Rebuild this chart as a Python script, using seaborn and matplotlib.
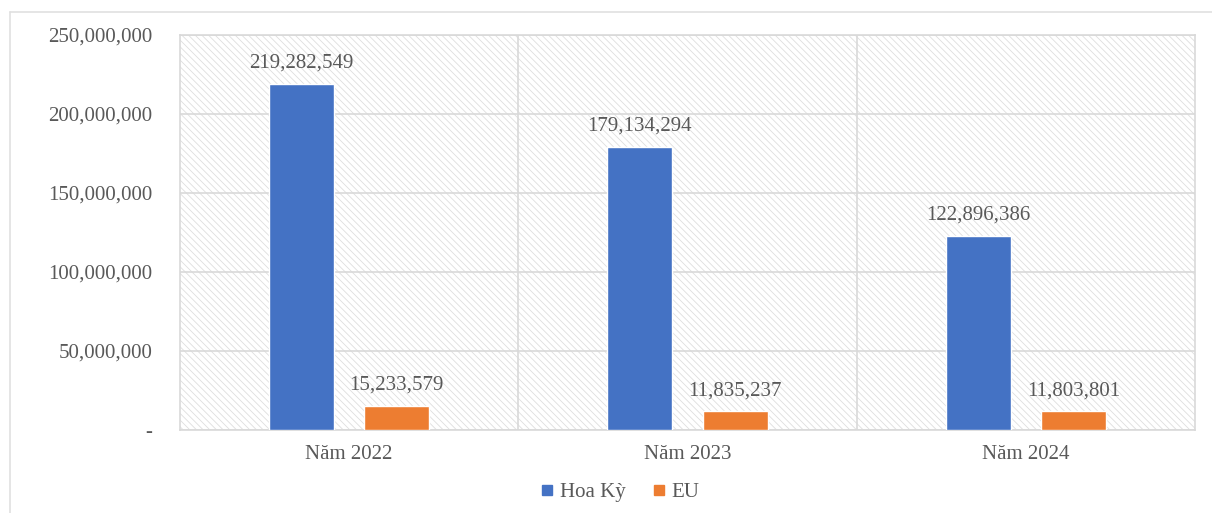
import matplotlib
matplotlib.use("Agg")
import matplotlib.pyplot as plt
import matplotlib.patches as mpatches
from matplotlib.lines import Line2D
from matplotlib.ticker import FuncFormatter
import seaborn as sns
import pandas as pd

# Export value by market and year
years = ["Năm 2022", "Năm 2023", "Năm 2024"]
markets = ["Hoa Kỳ", "EU"]
hoa_ky = [219282549, 179134294, 122896386]
eu = [15233579, 11835237, 11803801]
y_ticks = [0, 50000000, 100000000, 150000000, 200000000, 250000000]

df = pd.DataFrame({
    "year": years * 2,
    "market": [markets[0]] * 3 + [markets[1]] * 3,
    "value": hoa_ky + eu,
})

sns.set_theme(style="white")
plt.rcParams["font.family"] = ["Liberation Serif", "DejaVu Serif"]
plt.rcParams["hatch.linewidth"] = 0.6
plt.rcParams["hatch.color"] = "#dedede"

TXT = "#595959"
GRID = "#d9d9d9"
FS = 15
colors = {"Hoa Kỳ": "#4472C4", "EU": "#ED7D31"}

fig = plt.figure(figsize=(12.12, 5.13), dpi=100)
ax = fig.add_axes([0.1485, 0.1618, 0.8375, 0.77])

# hatched plot-area background
bg = mpatches.Rectangle((0, 0), 1, 1, transform=ax.transAxes, facecolor="white",
                        edgecolor="#dedede", hatch="\\" * 5, linewidth=0, zorder=0)
ax.add_patch(bg)
ax.set_facecolor("none")

sns.barplot(data=df, x="year", y="value", hue="market", order=years,
            hue_order=markets, palette=colors, width=0.562, gap=0.316,
            saturation=1, ax=ax, legend=False, zorder=3)

ax.set_ylim(0, 250000000)
ax.set_xlim(-0.5, 2.5)
ax.set_yticks(y_ticks)
ax.yaxis.set_major_formatter(FuncFormatter(lambda v, p: "-" if v == 0 else f"{int(v):,}"))
ax.yaxis.grid(True, color=GRID, linewidth=1.2, zorder=1)
ax.set_axisbelow(True)
for xb in (0.5, 1.5):
    ax.axvline(xb, color=GRID, linewidth=1.2, zorder=1)
for s in ax.spines.values():
    s.set_color(GRID)
    s.set_linewidth(1.2)

ax.tick_params(axis="y", length=0, pad=20, labelsize=FS, labelcolor=TXT)
ax.tick_params(axis="x", length=0, pad=11, labelsize=FS, labelcolor=TXT)
ax.set_xlabel("")
ax.set_ylabel("")

for cont in ax.containers:
    ax.bar_label(cont, labels=[f"{int(b.get_height()):,}" for b in cont],
                 padding=8, fontsize=FS, color=TXT)

handles = [Line2D([], [], marker="s", linestyle="none", markersize=7,
                  markerfacecolor=colors[m], markeredgecolor=colors[m]) for m in markets]
fig.legend(handles, markets, loc="center", bbox_to_anchor=(0.5116, 0.04), ncol=2,
           frameon=False, fontsize=FS, labelcolor=TXT, handlelength=0.6,
           handletextpad=0.3, columnspacing=1.3)

# outer chart frame
fig.add_artist(Line2D([10 / 1212, 1], [1 - 12 / 513, 1 - 12 / 513],
                      transform=fig.transFigure, color="#e0e0e0", linewidth=1.2))
fig.add_artist(Line2D([10 / 1212, 10 / 1212], [0, 1 - 12 / 513],
                      transform=fig.transFigure, color="#e0e0e0", linewidth=1.2))

fig.savefig("out.png", dpi=100)
